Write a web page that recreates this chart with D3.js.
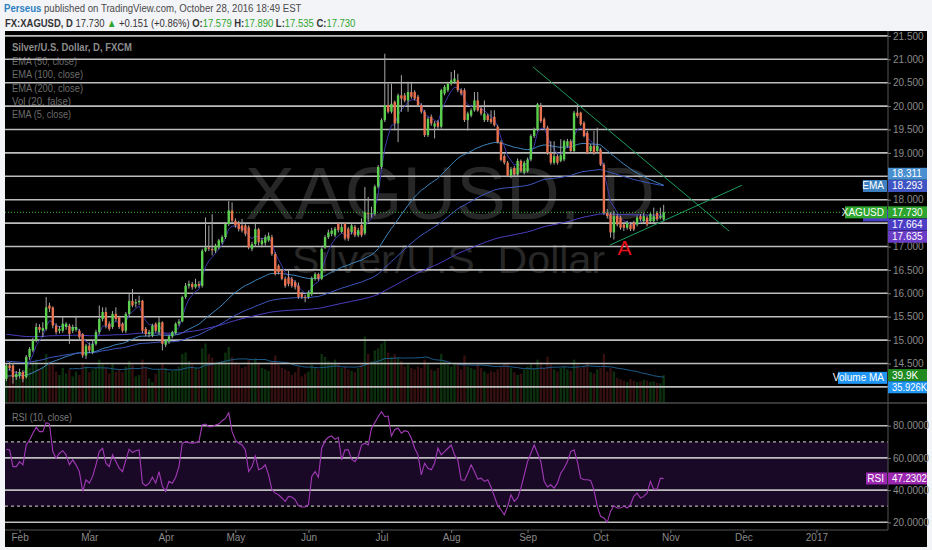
<!DOCTYPE html>
<html><head><meta charset="utf-8">
<script src="https://cdn.jsdelivr.net/npm/d3@7/dist/d3.min.js"></script>
<style>body{margin:0;background:#eef0f4;} svg{display:block;font-family:"Liberation Sans",Arial,sans-serif;}</style>
</head><body><svg id="c" width="932" height="550"></svg>
<script>
// ---------------- DATA ----------------
const monthLabels = ["Feb","Mar","Apr","May","Jun","Jul","Aug","Sep","Oct","Nov","Dec","2017"];
const priceTicks = [14.5,15,15.5,16,16.5,17,17.5,18,18.5,19,19.5,20,20.5,21,21.5];
const gridLevels = [14,14.5,15,15.5,16,16.5,17,17.5,18,18.5,19,19.5,20,20.5,21,21.5];
const rsiTicks = [20,40,60,80];
const rsiDashed = [30,70];
const legendItems = ["EMA (50, close)","EMA (100, close)","EMA (200, close)","Vol (20, false)","EMA (5, close)"];
// bar index 1 = 26 Jan 2016 ... 199 = 28 Oct 2016  [open, high, low, close]
const candles = [
[14.17,14.50,14.12,14.46],[14.46,14.53,14.35,14.40],[14.46,14.50,14.07,14.21],[14.21,14.34,14.15,14.28],[14.24,14.39,14.18,14.32],
[14.32,14.36,14.10,14.17],[14.21,14.68,14.18,14.64],[14.64,14.85,14.58,14.81],[14.78,15.05,14.74,14.99],[14.99,15.36,14.95,15.28],
[15.28,15.34,15.16,15.22],[15.20,15.38,15.06,15.26],[15.24,15.92,15.20,15.70],[15.74,15.80,15.60,15.67],[15.70,15.72,15.25,15.31],
[15.31,15.36,15.12,15.17],[15.20,15.30,15.14,15.24],[15.20,15.49,15.16,15.35],[15.28,15.38,15.22,15.35],[15.31,15.35,14.92,15.13],
[15.20,15.33,15.15,15.28],[15.22,15.52,15.18,15.28],[15.20,15.24,15.02,15.06],[15.13,15.15,14.62,14.67],[14.67,14.92,14.60,14.88],
[14.88,14.95,14.72,14.78],[14.74,14.98,14.70,14.92],[14.92,15.22,14.88,15.17],[15.17,15.74,15.12,15.45],[15.45,15.70,15.40,15.60],
[15.60,15.70,15.25,15.31],[15.35,15.40,15.20,15.24],[15.28,15.62,15.24,15.56],[15.56,15.70,15.40,15.45],[15.49,15.52,15.24,15.28],
[15.35,15.38,15.16,15.20],[15.20,15.60,15.15,15.56],[15.56,15.99,15.52,15.84],[15.84,16.09,15.70,15.74],[15.78,15.88,15.70,15.81],
[15.81,15.95,15.75,15.84],[15.84,15.86,15.15,15.20],[15.24,15.28,15.08,15.13],[15.13,15.22,15.06,15.17],[15.10,15.35,15.06,15.31],
[15.35,15.38,15.16,15.20],[15.17,15.49,15.12,15.38],[15.38,15.40,14.78,14.92],[14.90,15.02,14.85,14.99],[14.97,15.12,14.92,15.08],
[15.08,15.20,15.04,15.17],[15.15,15.38,15.12,15.35],[15.35,15.45,15.30,15.40],[15.40,15.95,15.38,15.92],[15.92,16.22,15.88,16.16],
[16.16,16.27,16.10,16.20],[16.20,16.24,16.08,16.13],[16.13,16.31,16.10,16.20],[16.20,16.26,16.12,16.16],[16.16,16.95,16.12,16.91],
[16.91,17.62,16.88,16.98],[16.98,17.45,16.90,16.95],[16.95,17.69,16.81,16.92],[16.91,17.06,16.86,17.02],[16.98,17.16,16.94,17.13],
[17.09,17.24,17.05,17.20],[17.20,17.52,17.16,17.48],[17.48,17.97,17.44,17.77],[17.77,17.94,17.50,17.55],[17.55,17.60,17.40,17.45],
[17.50,17.55,17.32,17.37],[17.45,17.59,17.30,17.34],[17.45,17.50,17.22,17.27],[17.41,17.45,16.94,16.98],[16.95,17.10,16.90,17.05],
[17.05,17.52,17.00,17.37],[17.37,17.40,17.02,17.09],[17.05,17.18,16.98,17.13],[17.08,17.25,17.02,17.20],[17.13,17.30,17.10,17.23],
[17.20,17.25,16.80,16.84],[16.84,16.88,16.38,16.41],[16.59,16.62,16.40,16.45],[16.49,16.52,16.28,16.31],[16.31,16.36,16.12,16.16],
[16.34,16.49,16.15,16.20],[16.31,16.35,16.12,16.16],[16.24,16.28,16.08,16.13],[16.16,16.23,15.88,15.92],[15.99,16.03,15.88,15.92],
[15.92,15.97,15.81,15.90],[15.92,16.06,15.88,16.02],[15.98,16.36,15.94,16.31],[16.31,16.45,16.27,16.41],[16.41,16.44,16.27,16.31],
[16.31,16.98,16.28,16.95],[16.98,17.24,16.95,17.20],[17.20,17.36,17.16,17.30],[17.27,17.40,17.22,17.34],[17.24,17.42,17.20,17.38],
[17.49,17.52,17.30,17.35],[17.31,17.52,17.28,17.42],[17.49,17.52,17.13,17.17],[17.38,17.42,17.12,17.17],[17.31,17.48,17.26,17.45],
[17.42,17.46,17.20,17.24],[17.24,17.40,17.20,17.35],[17.46,17.60,17.20,17.24],[17.28,18.27,17.24,17.74],[17.72,18.06,17.53,17.70],
[17.70,17.85,17.62,17.72],[17.70,18.32,17.66,18.28],[18.28,18.74,18.24,18.70],[18.70,19.74,18.66,19.70],[19.70,21.12,19.66,20.02],
[20.02,20.48,19.84,19.88],[19.88,20.48,19.84,20.05],[20.09,20.12,19.48,19.63],[19.63,20.27,19.23,20.23],[20.23,20.66,19.88,20.16],
[20.23,20.28,20.08,20.12],[20.12,20.52,19.88,20.30],[20.30,20.52,20.16,20.20],[20.30,20.34,20.12,20.16],[20.20,20.24,19.98,20.02],
[20.02,20.06,19.84,19.88],[19.88,19.92,19.34,19.38],[19.38,19.77,19.34,19.73],[19.77,19.82,19.58,19.63],[19.56,19.68,19.31,19.63],
[19.66,19.70,19.52,19.56],[19.56,20.37,19.52,20.34],[20.27,20.45,20.23,20.41],[20.34,20.52,20.30,20.48],[20.48,20.73,20.44,20.55],
[20.52,20.77,20.48,20.59],[20.55,20.69,20.30,20.34],[20.34,20.38,20.23,20.27],[20.34,20.38,19.66,19.70],[19.70,19.88,19.48,19.84],
[19.80,19.95,19.76,19.91],[19.91,20.30,19.88,20.12],[20.12,20.30,19.88,19.91],[19.95,19.99,19.80,19.84],[19.70,20.12,19.66,19.84],
[19.80,19.84,19.66,19.70],[19.73,19.91,19.62,19.66],[19.77,19.91,19.56,19.59],[19.56,19.60,19.20,19.23],[19.23,19.27,18.82,18.85],
[18.93,18.97,18.75,18.79],[18.79,18.83,18.48,18.51],[18.51,18.70,18.46,18.65],[18.68,18.72,18.50,18.54],[18.54,18.88,18.50,18.83],
[18.83,18.86,18.58,18.61],[18.58,18.83,18.54,18.79],[18.61,18.90,18.58,18.86],[18.86,19.40,18.82,19.36],[19.36,19.54,19.32,19.50],
[19.50,20.07,19.46,20.04],[20.00,20.07,19.64,19.68],[19.72,19.76,19.50,19.54],[19.54,19.58,18.96,19.00],[19.00,19.25,18.75,18.79],
[18.79,19.25,18.75,18.93],[18.93,18.97,18.75,18.79],[18.83,19.29,18.80,18.95],[18.86,19.28,18.82,19.25],[19.15,19.30,19.11,19.25],
[19.25,19.29,19.00,19.04],[19.04,19.90,19.00,19.86],[19.86,20.04,19.75,19.79],[19.86,19.88,19.58,19.61],[19.64,19.68,19.33,19.36],
[19.43,19.47,18.97,19.00],[19.04,19.19,19.00,19.15],[19.15,19.47,18.96,19.00],[19.04,19.54,19.00,19.15],[19.07,19.11,18.72,18.75],
[18.75,18.79,17.68,17.72],[17.72,17.80,17.60,17.65],[17.69,17.73,17.19,17.30],[17.30,17.76,17.15,17.65],[17.65,17.69,17.43,17.47],
[17.62,17.66,17.36,17.40],[17.47,17.51,17.33,17.40],[17.40,17.55,17.36,17.51],[17.47,17.51,17.33,17.37],[17.51,17.55,17.33,17.37],
[17.47,17.66,17.43,17.62],[17.65,17.69,17.54,17.58],[17.54,17.72,17.50,17.65],[17.62,17.66,17.43,17.47],[17.54,17.73,17.50,17.69],
[17.54,17.83,17.50,17.65],[17.72,17.76,17.54,17.58],[17.62,17.83,17.58,17.65],[17.579,17.890,17.535,17.730]
];
// volume in thousands, bar 1..199
const volumes = [
42,38,45,40,36,44,55,50,58,62,48,52,70,60,55,45,40,50,42,48,38,45,40,58,
52,44,48,50,62,55,50,42,56,45,48,44,52,60,55,38,40,62,50,35,30,42,48,56,
50,44,46,48,52,70,72,60,55,50,48,78,85,70,65,58,56,60,72,80,66,58,
55,50,52,62,56,64,58,50,48,46,60,68,55,50,48,46,40,44,52,38,42,45,
55,50,48,70,66,60,58,62,55,50,52,48,46,44,50,56,95,70,60,75,78,85,
90,72,66,70,64,60,52,55,50,48,52,50,62,55,48,46,50,70,60,55,52,58,56,48,68,52,50,48,55,50,45,42,46,44,48,52,56,58,50,44,40,42,48,52,
55,50,62,58,50,66,55,48,45,50,52,48,46,62,55,50,52,58,44,42,48,50,
70,45,50,45,36,34,32,30,34,32,30,31,33,32,30,31,29,28,39.9
];
const rsiValues = [
65.4,65,54.6,54.6,57.7,55.7,68,71.1,75.3,79,76.3,76.3,81.9,81,63.9,59.8,62.9,64.5,61.9,55.7,
58.8,55.7,51.5,39.2,46.4,44.3,48.5,55.7,63.9,66,56.7,54.6,61.9,57.7,53.6,51.5,58.8,65.4,63.3,64.5,
65,44.3,42.7,44.3,48,44.3,51.5,42.3,39.2,45.4,44.3,48,54.6,69.1,70.1,69.5,69.1,69.5,70.1,80.4,
81,79.4,79.4,80.4,81,83.1,84.5,88,76.3,71.1,69.1,68,65,51.5,54.6,61.2,52.6,53.6,55.7,49.5,
40.2,38.1,37.1,35.1,33,36.1,35.7,34,30.3,29.5,29.5,30.9,48.5,51.5,48,66,70.7,72.8,73.6,71.5,
72.8,58.8,65,65,59.2,57.7,60.8,68,69.1,68,78.4,82,85.6,88.7,85.6,86,73.6,77.7,78.4,75.3,
76.9,76.3,72.2,66,61.9,49.5,56.7,53.6,52.6,56.7,66,61.9,63.9,66,68,61.9,58.8,46.4,46,50.5,
55.7,51.5,46.8,47.4,45.4,46.4,41.9,36.1,30.3,27.8,24.7,29.9,37.1,33,35.1,41.2,49.5,57.7,62.9,68,
62.9,57.7,45.4,41.9,43.3,41.2,44.3,50.5,53.6,57.7,63.9,65,57.7,47.4,46.4,46.4,46,40.2,29.9,23.7,
22.7,20,26.8,30.3,28.9,28.9,29.9,28.9,30.9,36.1,38.1,35.1,36.1,38.1,45.4,40.6,40.6,47.4,47.23
];
// EMA definitions (seed = value before the first visible bar)
const emaDefs = [
 {period:50, seed:14.22, color:"#3f86be"},
 {period:100, seed:14.55, color:"#3e58c0"},
 {period:200, seed:15.13, color:"#4c3fc2"},
 {period:5, seed:14.30, color:"#3b37a8"}
];
const trendLines = [ {a:[159.6,20.84], b:[218.7,17.33]}, {a:[182.8,17.03], b:[222.6,18.31]} ];
const annotations = [ {text:"A", bar:187.2, price:16.82} ];
const priceLabels = [
 {text:"18.311", value:18.311, color:"#4a8fd0"},
 {text:"18.293", value:18.293, color:"#3f55c4", tag:"EMA", tagColor:"#3d80c0", tagW:24},
 {text:"17.730", value:17.730, color:"#2ea52e", tag:"XAGUSD", tagColor:"#2ea52e", tagW:42, fixed:true},
 {text:"17.664", value:17.664, color:"#4b3dc6", stub:true},
 {text:"17.635", value:17.635, color:"#6a3dc6"}
];
const volumeLabels = [
 {text:"39.9K", value:39.9, color:"#1f8a1f", fixed:true},
 {text:"35.926K", value:35.926, color:"#2196f3", tag:"Volume MA", tagColor:"#2196f3", tagW:49}
];
const rsiLabels = [ {text:"47.2302", value:47.2302, color:"#9c27b0", tag:"RSI", tagColor:"#9c27b0", tagW:21, fixed:true} ];

// ---------------- LAYOUT ----------------
const svg = d3.select("#c");
const L = 5, R = 888, T = 31, PB = 403, RB = 530, B = 547, RE = 927;
const xs = d3.scaleLinear().domain([0, 245]).range([3, 3 + 245*3.32]);
const ys = d3.scaleLinear().domain([14, 21.5]).range([386.9, 35.9]);
const yv = d3.scaleLinear().domain([0, 100]).range([PB, PB - 70]);
const yr = d3.scaleLinear().domain([20, 80]).range([522.3, 425.7]);
const bars = candles.map((c,k)=>({i:k+1,o:c[0],h:c[1],l:c[2],c:c[3]}));
const barDate = i => { const d = new Date(2016,0,25); d.setDate(d.getDate() + Math.floor(i/5)*7 + (i%5)); return d; };
const monthStarts = [];
for (let i=1;i<=250;i++) if (barDate(i).getMonth() !== barDate(i-1).getMonth()) monthStarts.push(i);

svg.append("rect").attr("width",932).attr("height",550).attr("fill","#f3f4f7");
svg.append("rect").attr("x",L).attr("y",T).attr("width",RE-L).attr("height",B-T).attr("fill","#000");

function fit(sel, w){ sel.attr("textLength", w).attr("lengthAdjust","spacingAndGlyphs"); return sel; }
// header: natural layout, then horizontally scaled to the reference width
function header(x, y, w, size, segs){
  const t = svg.append("text").attr("x",0).attr("y",0).attr("font-size",size);
  segs.forEach(s=>t.append("tspan").attr("font-weight",s[1]).attr("fill",s[2]).text(s[0]));
  const nw = t.node().getComputedTextLength();
  t.attr("transform",`translate(${x},${y}) scale(${w/nw},1)`);
}
header(4, 12, 298, 11.5, [["Perseus","bold","#2d7fc1"],[" published on TradingView.com, October 28, 2016 18:49 EST","normal","#4a4a4a"]]);
header(5, 27, 351, 11, [["FX:XAGUSD, D","bold","#333"],[" 17.730 ","normal","#333"],["▲","normal","#2ea52e"],[" +0.151 (+0.86%) ","normal","#333"],
 ["O:","bold","#333"],["17.579","normal","#2ea52e"],[" H:","bold","#333"],["17.890","normal","#2ea52e"],[" L:","bold","#333"],["17.535","normal","#2ea52e"],[" C:","bold","#333"],["17.730","normal","#2ea52e"]]);

// clip for panes
const defs = svg.append("defs");
defs.append("clipPath").attr("id","pc").append("rect").attr("x",L).attr("y",T).attr("width",R-L).attr("height",PB-T);
defs.append("clipPath").attr("id","rc").append("rect").attr("x",L).attr("y",PB).attr("width",R-L).attr("height",RB-PB);
const pane = svg.append("g").attr("clip-path","url(#pc)");
const rpane = svg.append("g").attr("clip-path","url(#rc)");

// watermark
fit(pane.append("text").attr("x",245).attr("y",219).attr("font-size",74).attr("fill","#272727").text("XAGUSD, D"), 410);
fit(pane.append("text").attr("x",292).attr("y",273).attr("font-size",38).attr("fill","#272727").text("Silver/U.S. Dollar"), 313);

// legend
fit(pane.append("text").attr("x",12).attr("y",51).attr("font-size",11).attr("font-weight","bold").attr("fill","#8c8c8c").text("Silver/U.S. Dollar, D, FXCM"),120);
const legW = [65,71,71,59,59];
legendItems.forEach((t,k)=>fit(pane.append("text").attr("x",12).attr("y",65+k*13.3).attr("font-size",11).attr("fill","#6c6c6c").text(t), legW[k]));

// volume
pane.append("g").selectAll("rect").data(bars).join("rect")
 .attr("x",d=>xs(d.i)-1.2).attr("width",2.4)
 .attr("y",d=>yv(volumes[d.i-1])).attr("height",d=>PB-yv(volumes[d.i-1]))
 .attr("fill",d=>d.c>=d.o?"#0c300e":"#361010");
const volMA = volumes.map((v,k)=> k<19 ? null : d3.mean(volumes.slice(k-19,k+1)));
pane.append("path").datum(volMA.map((v,k)=>({i:k+1,v})).filter(d=>d.v!=null))
 .attr("d",d3.line().x(d=>xs(d.i)).y(d=>yv(d.v))).attr("fill","none").attr("stroke","#1d5c8c").attr("stroke-width",1);

// grid lines (price)
pane.append("g").selectAll("line").data(gridLevels).join("line")
 .attr("x1",L).attr("x2",R).attr("y1",d=>ys(d)).attr("y2",d=>ys(d)).attr("stroke","#bdbdbd").attr("stroke-width",1.6);

// EMAs
const closes = bars.map(d=>d.c);
function ema(vals, period, seed){ const k = 2/(period+1); let e = seed; return vals.map(v => (e = v*k + e*(1-k))); }
const emaSeries = emaDefs.map(def => ({def, vals: ema(closes, def.period, def.seed)}));
emaSeries.forEach(s => pane.append("path").datum(s.vals)
 .attr("d", d3.line().x((d,k)=>xs(k+1)).y(d=>ys(d))).attr("fill","none").attr("stroke",s.def.color).attr("stroke-width",1));

// candles
const cg = pane.append("g");
cg.selectAll("line").data(bars).join("line")
 .attr("x1",d=>xs(d.i)).attr("x2",d=>xs(d.i)).attr("y1",d=>ys(d.h)).attr("y2",d=>ys(d.l)).attr("stroke","#a8a8a8").attr("stroke-width",1);
cg.selectAll("rect").data(bars).join("rect")
 .attr("x",d=>xs(d.i)-1.2).attr("width",2.4)
 .attr("y",d=>ys(Math.max(d.o,d.c))).attr("height",d=>Math.max(1,Math.abs(ys(d.o)-ys(d.c))))
 .attr("fill",d=>d.c>=d.o?"#5ccf4f":"#e8714f");

// trend lines, price line, annotation
pane.append("g").selectAll("line").data(trendLines).join("line")
 .attr("x1",d=>xs(d.a[0])).attr("y1",d=>ys(d.a[1])).attr("x2",d=>xs(d.b[0])).attr("y2",d=>ys(d.b[1]))
 .attr("stroke","#1e9c5e").attr("stroke-width",1);
const last = bars[bars.length-1];
pane.append("line").attr("x1",L).attr("x2",R).attr("y1",ys(last.c)).attr("y2",ys(last.c))
 .attr("stroke","#3cb93c").attr("stroke-dasharray","1,2");
pane.selectAll("text.ann").data(annotations).join("text").attr("class","ann")
 .attr("x",d=>xs(d.bar)).attr("y",d=>ys(d.price)).attr("text-anchor","middle").attr("font-size",21).attr("fill","#e3111b").text(d=>d.text);

// RSI pane
rpane.append("rect").attr("x",L).attr("width",R-L).attr("y",yr(70)).attr("height",yr(30)-yr(70)).attr("fill","#1a0926");
rpane.append("g").selectAll("line").data(rsiTicks).join("line")
 .attr("x1",L).attr("x2",R).attr("y1",d=>yr(d)).attr("y2",d=>yr(d)).attr("stroke","#bdbdbd").attr("stroke-width",1.6);
rpane.append("g").selectAll("line").data(rsiDashed).join("line")
 .attr("x1",L).attr("x2",R).attr("y1",d=>yr(d)).attr("y2",d=>yr(d)).attr("stroke","#b0b0b0").attr("stroke-width",1.2).attr("stroke-dasharray","3,3");
rpane.append("path").datum(rsiValues).attr("d",d3.line().x((d,k)=>xs(k+1)).y(d=>yr(d)))
 .attr("fill","none").attr("stroke","#a23ab8").attr("stroke-width",1.1);
fit(rpane.append("text").attr("x",12).attr("y",421).attr("font-size",11).attr("fill","#7a7a7a").text("RSI (10, close)"),60);

// separators
svg.append("line").attr("x1",L).attr("x2",RE).attr("y1",PB).attr("y2",PB).attr("stroke","#4a4a4a").attr("stroke-width",1.5);
svg.append("line").attr("x1",R).attr("x2",R).attr("y1",T).attr("y2",RB).attr("stroke","#555");
svg.append("line").attr("x1",L).attr("x2",R).attr("y1",RB).attr("y2",RB).attr("stroke","#555");

// right-side value labels with stacking
function stackLabels(list, scale){
  const items = list.map(d=>({...d, ty: scale(d.value)}));
  const fixedIdx = Math.max(0, items.findIndex(d=>d.fixed));
  items.forEach(d=>d.y=d.ty);
  for (let k=fixedIdx-1;k>=0;k--) items[k].y = Math.min(items[k].ty, items[k+1].y-12.2);
  for (let k=fixedIdx+1;k<items.length;k++) items[k].y = Math.max(items[k].ty, items[k-1].y+12.2);
  return items;
}
const pItems = stackLabels(priceLabels, ys), vItems = stackLabels(volumeLabels, yv), rItems = stackLabels(rsiLabels, yr);
const boxYs = pItems.concat(vItems, rItems).map(d=>d.y);

// axes
function styleAxis(g){ g.select(".domain").remove(); g.selectAll("line").attr("stroke","#777"); g.selectAll("text").attr("fill","#8a8a8a").attr("font-size",10).attr("font-family","Liberation Sans, Arial, sans-serif"); }
const pAx = svg.append("g").attr("transform",`translate(${R},0)`).call(d3.axisRight(ys).tickValues(priceTicks).tickFormat(d3.format(".3f")).tickSize(3).tickPadding(2));
styleAxis(pAx);
pAx.selectAll(".tick").filter(d=>boxYs.some(by=>Math.abs(by-ys(d))<9)).select("text").remove();
const rAx = svg.append("g").attr("transform",`translate(${R},0)`).call(d3.axisRight(yr).tickValues(rsiTicks).tickFormat(d3.format(".4f")).tickSize(3).tickPadding(2));
styleAxis(rAx);
const tAx = svg.append("g").attr("transform",`translate(0,${RB})`).call(d3.axisBottom(xs).tickValues(monthStarts.slice(0,monthLabels.length)).tickFormat((d,k)=>monthLabels[k]).tickSize(3).tickPadding(1));
styleAxis(tAx);

function drawLabels(items){
  const g = svg.append("g").attr("font-size",10).attr("fill","#fff");
  items.forEach(d=>{
    if (d.stub) g.append("rect").attr("x",R-25).attr("y",d.ty-6).attr("width",25).attr("height",12).attr("fill",d.color);
  });
  items.forEach(d=>{
    if (d.tag){
      g.append("rect").attr("x",R-d.tagW-1).attr("y",d.ty-6).attr("width",d.tagW).attr("height",12).attr("fill",d.tagColor);
      g.append("text").attr("x",R-4).attr("y",d.ty+3.5).attr("text-anchor","end").text(d.tag);
    }
    g.append("rect").attr("x",R).attr("y",d.y-6).attr("width",RE-R).attr("height",12).attr("fill",d.color);
    const t = g.append("text").attr("x",R+4).attr("y",d.y+3.5).text(d.text);
    if (t.node().getComputedTextLength() > 35) fit(t, 35);
  });
}
drawLabels(pItems); drawLabels(vItems); drawLabels(rItems);
</script></body></html>
